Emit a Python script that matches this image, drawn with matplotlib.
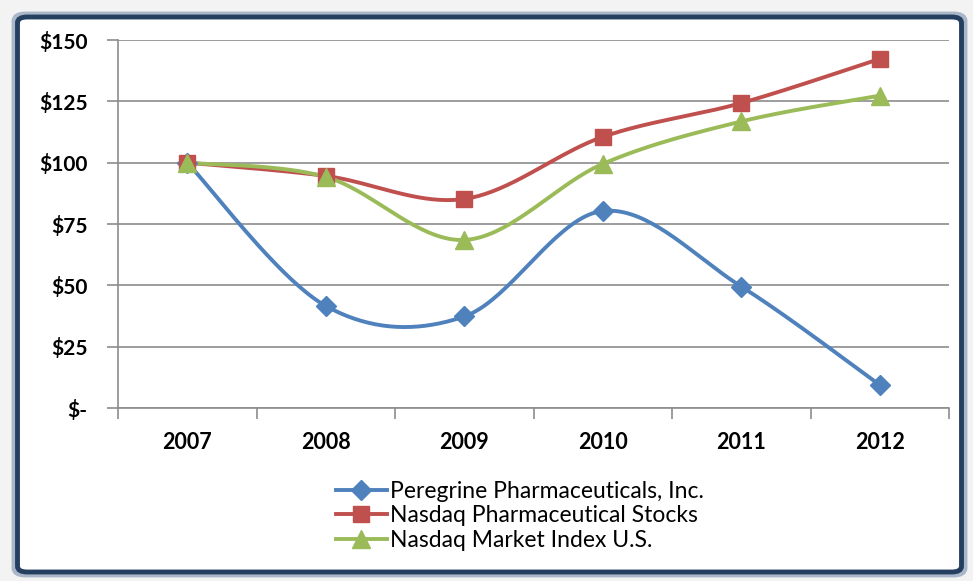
import numpy as np
import matplotlib
matplotlib.use("Agg")
import matplotlib.pyplot as plt
from matplotlib.patches import FancyBboxPatch

plt.rcParams['font.family'] = ['Lato', 'DejaVu Sans']

years = ['2007', '2008', '2009', '2010', '2011', '2012']
peregrine = [100, 41.6, 37.3, 80.3, 49.5, 9.4]
nasdaq_pharma = [100, 94.6, 85.2, 110.5, 124.3, 142.3]
nasdaq_market = [100, 94.2, 68.5, 99.5, 116.8, 127.3]

labels = ['Peregrine Pharmaceuticals, Inc.', 'Nasdaq Pharmaceutical Stocks',
          'Nasdaq Market Index U.S.']
colors = ['#4F81BD', '#C0504D', '#9BBB59']
markers = ['D', 's', '^']
msizes = [10, 12, 13]


def smooth(x, y, n=40):
    # excel style smoothed line: cubic bezier through the points
    x = np.asarray(x, float)
    y = np.asarray(y, float)
    px = np.concatenate([[x[0]], x, [x[-1]]])
    py = np.concatenate([[y[0]], y, [y[-1]]])
    xs, ys = [], []
    t = np.linspace(0, 1, n)
    for i in range(len(x) - 1):
        p0 = np.array([px[i + 1], py[i + 1]])
        p3 = np.array([px[i + 2], py[i + 2]])
        c1 = p0 + (np.array([px[i + 2], py[i + 2]]) - np.array([px[i], py[i]])) / 6
        c2 = p3 - (np.array([px[i + 3], py[i + 3]]) - np.array([px[i + 1], py[i + 1]])) / 6
        b = ((1 - t) ** 3)[:, None] * p0 + (3 * (1 - t) ** 2 * t)[:, None] * c1 \
            + (3 * (1 - t) * t ** 2)[:, None] * c2 + (t ** 3)[:, None] * p3
        xs.extend(b[:, 0])
        ys.extend(b[:, 1])
    return np.array(xs), np.array(ys)


fig = plt.figure(figsize=(9.73, 5.81), dpi=100)
fig.patch.set_facecolor('#F3F3F3')

# chart frame
fig.patches.append(FancyBboxPatch((14 / 973, 6 / 581), 951 / 973, 561 / 581,
                                  boxstyle='round,pad=0,rounding_size=0.012',
                                  transform=fig.transFigure, facecolor='white',
                                  edgecolor='#A9B7C9', linewidth=3.5, zorder=-2))
fig.patches.append(FancyBboxPatch((17.5 / 973, 9 / 581), 944 / 973, 555 / 581,
                                  boxstyle='round,pad=0,rounding_size=0.01',
                                  transform=fig.transFigure, facecolor='white',
                                  edgecolor='#243F60', linewidth=3.5, zorder=-1))

ax = fig.add_axes([118 / 973, 1 - 408 / 581, 831 / 973, 368 / 581])
ax.set_facecolor('none')

xpos = np.arange(len(years)) + 0.5
for vals, lab, c, m, ms in zip([peregrine, nasdaq_pharma, nasdaq_market],
                               labels, colors, markers, msizes):
    sx, sy = smooth(xpos, vals)
    ax.plot(sx, sy, color=c, lw=2.8, solid_capstyle='round', zorder=3)
    ax.plot(xpos, vals, linestyle='none', marker=m, markersize=ms, color=c,
            zorder=4)
    ax.plot([], [], color=c, lw=2.8, marker=m, markersize=ms, label=lab)

ax.set_xlim(0, 6)
ax.set_ylim(0, 150)
ax.set_yticks(np.arange(0, 151, 25))
ax.set_yticklabels(['$-', '$25', '$50', '$75', '$100', '$125', '$150'],
                   fontweight='bold', fontsize=15)
ax.yaxis.grid(True, color='#8C8C8C', lw=1.2)
ax.set_axisbelow(True)

ax.set_xticks(np.arange(0, 7))
ax.set_xticklabels([])
ax.set_xticks(xpos, minor=True)
ax.set_xticklabels(years, minor=True, fontweight='bold', fontsize=15.5)
ax.tick_params(axis='x', which='major', direction='out', length=8,
               color='#8C8C8C', width=1.2)
ax.tick_params(axis='x', which='minor', length=0, pad=17)
ax.tick_params(axis='y', direction='out', length=8, color='#8C8C8C',
               width=1.2, pad=14)

for s in ['top', 'right']:
    ax.spines[s].set_visible(False)
for s in ['left', 'bottom']:
    ax.spines[s].set_color('#8C8C8C')
    ax.spines[s].set_linewidth(1.2)

fig.legend(loc='center', bbox_to_anchor=(520 / 973, 1 - 516 / 581),
           frameon=False, fontsize=16.5, handlelength=2.2, handletextpad=0.15,
           labelspacing=0.15, borderpad=0)

fig.savefig('out.png', dpi=100, facecolor=fig.get_facecolor())
